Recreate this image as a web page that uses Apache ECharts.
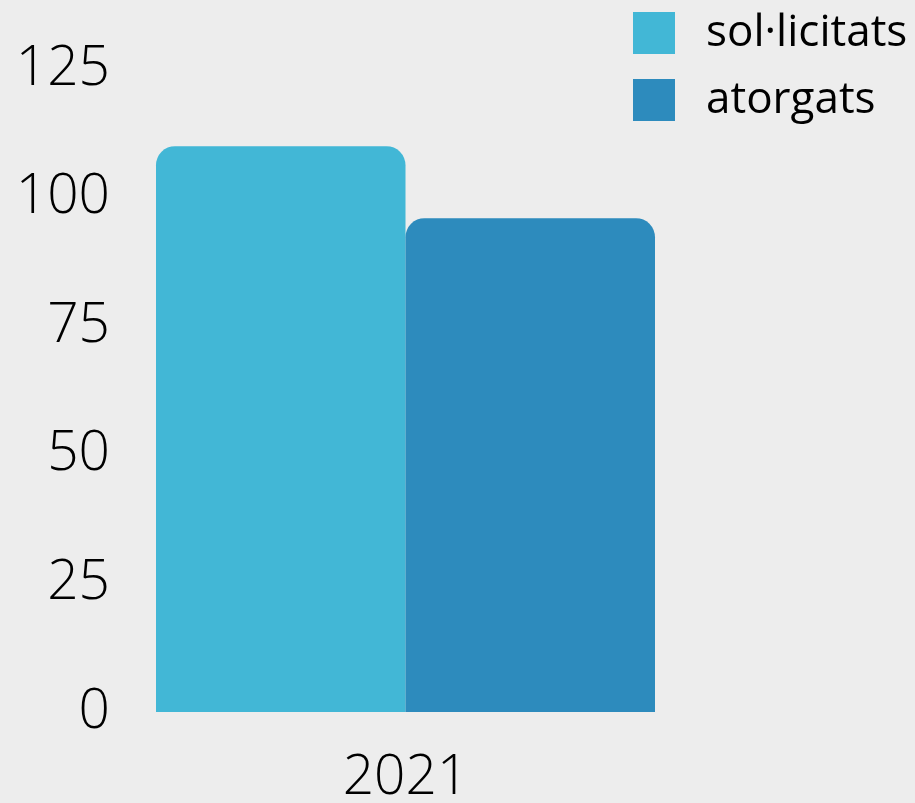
<!DOCTYPE html>
<html>
<head>
<meta charset="utf-8">
<script src="https://cdn.jsdelivr.net/npm/echarts@6/dist/echarts.min.js"></script>
<style>
 html, body { margin: 0; padding: 0; background: #ededed; }
 #chart { width: 915px; height: 803px; }
</style>
</head>
<body>
<div id="chart"></div>
<script>
const categories = ['2021']
const seriesNames = ['sol·licitats', 'atorgats']
const solValues = [110]
const atorValues = [96]
const yTicks = [0, 25, 50, 75, 100, 125]

const chart = echarts.init(document.getElementById('chart'))
const option = {
 backgroundColor: '#ededed',
 textStyle: { fontFamily: 'Open Sans' },
 legend: {
  orient: 'vertical',
  left: 633,
  top: 11,
  padding: 0,
  itemWidth: 42,
  itemHeight: 42,
  itemGap: 23,
  icon: 'rect',
  textStyle: { fontSize: 44, lineHeight: 42, color: '#000', fontFamily: 'Open Sans', padding: [0, 0, 0, 26] },
  data: seriesNames
 },
 grid: {
  left: 156,
  right: 260,
  top: 69,
  bottom: 91,
  outerBoundsMode: 'none',
  containLabel: false
 },
 xAxis: {
  type: 'category',
  data: categories,
  axisLine: { show: false },
  axisTick: { show: false },
  axisLabel: { fontSize: 55, color: '#000', fontWeight: 300, margin: 39, fontFamily: 'Open Sans' }
 },
 yAxis: {
  type: 'value',
  min: yTicks[0],
  max: yTicks[yTicks.length - 1],
  interval: 25,
  splitLine: { show: false },
  axisLine: { show: false },
  axisTick: { show: false },
  axisLabel: { fontSize: 55, color: '#000', fontWeight: 300, margin: 46, fontFamily: 'Open Sans' }
 },
 series: [
  {
   name: seriesNames[0],
   type: 'bar',
   data: solValues,
   barGap: '0%',
   barCategoryGap: '0%',
   itemStyle: { color: '#42b7d6', borderRadius: [19, 19, 0, 0] }
  },
  {
   name: seriesNames[1],
   type: 'bar',
   data: atorValues,
   itemStyle: { color: '#2d8bbd', borderRadius: [19, 19, 0, 0] }
  }
 ]
}
chart.setOption(option)
</script>
</body>
</html>
